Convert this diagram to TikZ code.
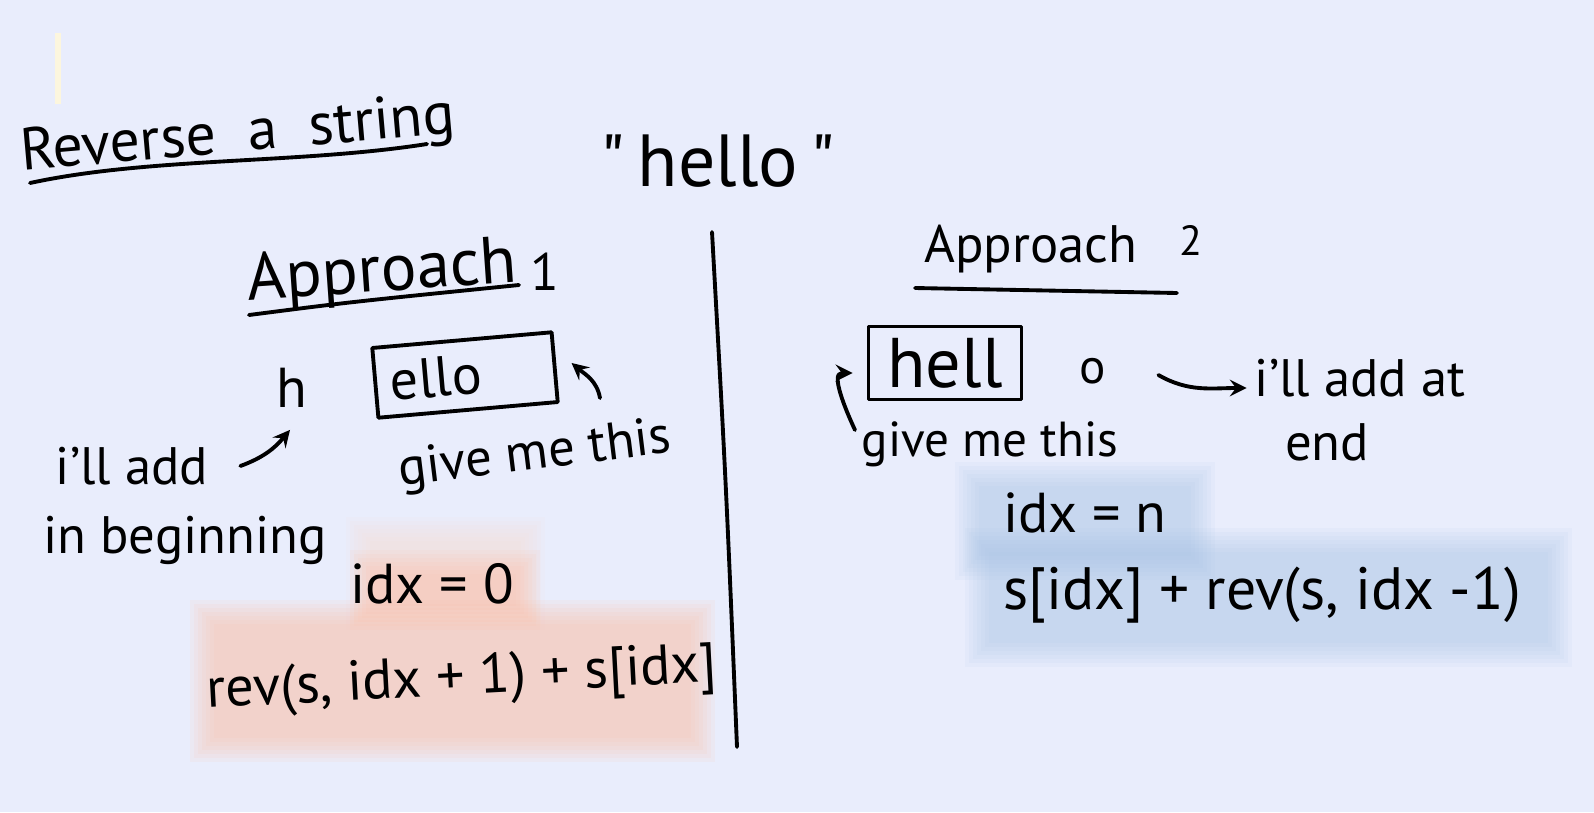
\documentclass[tikz,border=0pt]{standalone}
\usepackage{fontspec}
\setmainfont{PT Sans}
\usetikzlibrary{arrows, calc, positioning}
\definecolor{paper}{RGB}{233,237,252}
\definecolor{peach}{RGB}{254,193,170}
\definecolor{lightpeach}{RGB}{255,214,190}
\definecolor{sky}{RGB}{162,193,229}
\definecolor{cream}{RGB}{252,246,222}

\begin{document}
\begin{tikzpicture}[
		x=0.1mm, y=0.1mm,
		every node/.style={inner sep=1pt},
		hand/.style={font=\fontsize{15}{18}\selectfont},
		code/.style={font=\fontsize{16}{19}\selectfont},
		pen/.style={line width=1.1pt, line cap=round, line join=round},
		tobox/.style={pen, ->, >=stealth},
		strbox/.style={draw, pen, minimum height=7mm}
	]
	\fill[paper] (0,0) rectangle (1594,812);
	\draw[cream, line width=1.5pt] (58,779) -- (58,708);

	% soft marker strokes
	\foreach \d in {0,4,...,24}
		\fill[lightpeach, opacity=0.06] (346+\d,295-\d) rectangle (545-\d,182+\d);
	\foreach \d in {0,4,...,24}
		\fill[peach, opacity=0.10] (350+\d,262-\d) rectangle (540-\d,182+\d);
	\foreach \d in {0,4,...,24}
		\fill[peach, opacity=0.11] (190+\d,212-\d) rectangle (715-\d,50+\d);
	\foreach \d in {0,4,...,24}
		\fill[sky, opacity=0.08] (955+\d,350-\d) rectangle (1215-\d,232+\d);
	\foreach \d in {0,4,...,24}
		\fill[sky, opacity=0.08] (965+\d,284-\d) rectangle (1572-\d,145+\d);

	\node[font=\fontsize{17}{20}\selectfont, rotate=5] (title) at (238,675) {Reverse \ a \ string};
	\draw[pen] (30,629) .. controls (150,655) and (300,648) .. (427,668);

	\node[font=\fontsize{21}{25}\selectfont] (word) at (718,651) {\textquotedbl\,hello\,\textquotedbl};

	\draw[pen] (712,580) .. controls (726,330) .. (737,65);

	% approach 1
	\node[font=\fontsize{19}{22}\selectfont, rotate=4] (app1) at (382,538) {Approach};
	\node[hand] (num1) at (545,540) {1};
	\draw[pen] (249,497) .. controls (350,510) .. (519,527);

	\node[font=\fontsize{16}{19}\selectfont] (h1) at (292,424) {h};
	\node[strbox, text width=15mm, inner xsep=1.5mm, align=left, rotate=5,
		font=\fontsize{16}{19}\selectfont] (ello) at (465,437) {ello};
	\node[hand, rotate=7] (giv1) at (535,356) {give me this};
	\node[hand] (add) at (132,346) {i'll add};
	\node[hand] (begin) at (185,272) {in beginning};
	\node[code] (idx0) at (432,228) {idx = 0};
	\node[code, rotate=3] (rev1) at (462,131) {rev(s, idx + 1) + s[idx]};

	\coordinate (tail1) at (600,414);
	\draw[tobox] ([xshift=8pt]add.east) to[out=20, in=230] ([shift={(-2,-18)}]h1.south);
	\draw[tobox] (tail1) to[out=100, in=-40] ([shift={(15,4)}]ello.east);

	% approach 2
	\node[font=\fontsize{15}{18}\selectfont] (app2) at (1031,563) {Approach};
	\node[font=\fontsize{12}{14}\selectfont] (num2) at (1191,572) {2};
	\draw[pen] (915,524) -- (1177,519);

	\node[strbox, minimum width=15.3mm, minimum height=7.3mm,
		font=\fontsize{20}{24}\selectfont] (hell) at (945,449) {hell};
	\node[font=\fontsize{14}{17}\selectfont] (o2) at (1093,441) {o};
	\node[font=\fontsize{14}{17}\selectfont] (giv2) at (990,368) {give me this};
	\node[hand] (addat) at (1360,434) {i'll add at};
	\node[hand] (end) at (1327,370) {end};
	\node[code] (idxn) at (1085,299) {idx = n};
	\node[font=\fontsize{17}{20}\selectfont] (rev2) at (1262,217) {s[idx] + rev(s, idx -1)};

	\coordinate (tail2) at (855,382);
	\draw[tobox] (tail2) to[out=115, in=180] ([shift={(-14,-10)}]hell.west);
	\draw[tobox] ([shift={(48,-4)}]o2.east) to[out=-30, in=180] ([shift={(-4,-10)}]addat.west);
\end{tikzpicture}
\end{document}
